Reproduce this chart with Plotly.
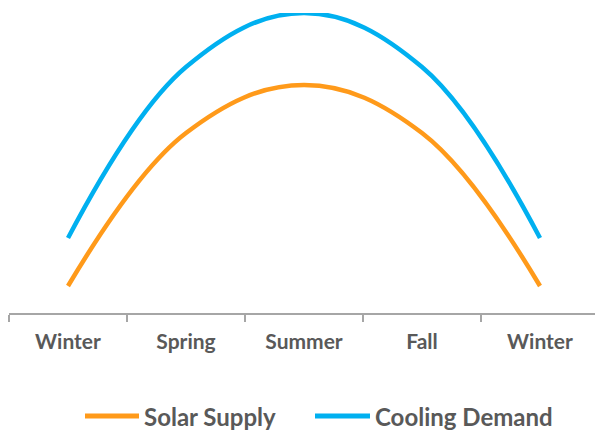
import plotly.graph_objects as go

# Seasonal profile, one point per season (year wraps back to winter)
seasons = ["Winter", "Spring", "Summer", "Fall", "Winter"]
solar_supply = [9, 60, 76, 60, 9]
cooling_demand = [25, 82, 100, 82, 25]

x_pos = list(range(len(seasons)))

ORANGE = "#FF9A1A"
BLUE = "#00B0F0"
TEXT = "#595959"
AXIS = "#A6A6A6"
FONT = "Lato"

W, H = 595, 433
M_L, M_R, M_T, M_B = 9, 0, 13, 120
PLOT_W = W - M_L - M_R
PLOT_H = H - M_T - M_B

fig = go.Figure()
series = [("Solar Supply", solar_supply, ORANGE), ("Cooling Demand", cooling_demand, BLUE)]
for name, values, color in series:
    fig.add_trace(go.Scatter(
        x=x_pos, y=values, name=name, mode="lines", showlegend=False,
        line=dict(color=color, width=4.5, shape="spline", smoothing=1.1),
    ))


def px_to_paper_x(px):
    return (px - M_L) / PLOT_W


def px_to_paper_y(py):
    return (H - M_B - py) / PLOT_H


# Legend below the axis: a long line swatch followed by the series name
legend_y = px_to_paper_y(416)
legend_items = [(85, 139, 142), (315, 370, 373)]
for (x0, x1, tx), (name, _, color) in zip(legend_items, series):
    fig.add_shape(type="line", xref="paper", yref="paper",
                  x0=px_to_paper_x(x0), x1=px_to_paper_x(x1), y0=legend_y, y1=legend_y,
                  line=dict(color=color, width=5))
    fig.add_annotation(xref="paper", yref="paper", x=px_to_paper_x(tx), y=legend_y,
                       xanchor="left", yanchor="middle", showarrow=False, text=name,
                       font=dict(family=FONT, size=24, color=TEXT, weight="bold"))

fig.update_layout(
    width=W, height=H,
    margin=dict(l=M_L, r=M_R, t=M_T, b=M_B),
    paper_bgcolor="white", plot_bgcolor="white",
    font=dict(family=FONT, color=TEXT, size=21),
    xaxis=dict(
        range=[-0.5, 4.466],
        tickmode="array", tickvals=x_pos, ticktext=seasons,
        ticks="", showgrid=False, zeroline=False,
        showline=True, linecolor=AXIS, linewidth=2,
        tickfont=dict(family=FONT, size=21, color=TEXT, weight="bold"),
        ticklabelstandoff=9,
        minor=dict(tickmode="linear", tick0=-0.5, dtick=1, ticks="outside",
                   ticklen=7, tickwidth=2, tickcolor=AXIS, showgrid=False),
    ),
    yaxis=dict(range=[0, 100], visible=False, showgrid=False, zeroline=False),
    showlegend=False,
)

fig.write_html("out.html")
